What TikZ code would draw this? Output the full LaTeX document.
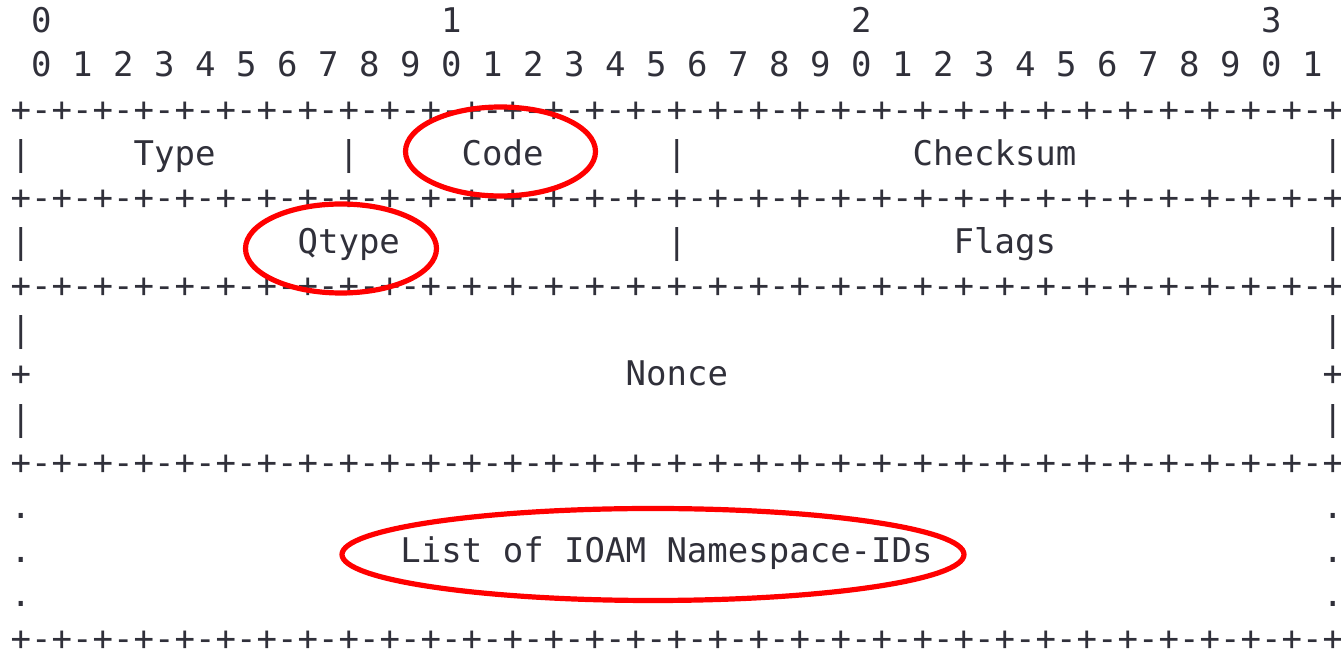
\documentclass[tikz,border=0pt]{standalone}
\usepackage{fontspec}
\newfontfamily\asciifont{DejaVu Sans Mono}
\definecolor{ink}{RGB}{48,48,58}
\definecolor{markred}{RGB}{255,0,0}

\begin{document}
\begin{tikzpicture}
  [
    x=0.5pt, y=-0.5pt,
    ch/.style={anchor=base, inner sep=0pt, text=ink,
      font=\asciifont\fontsize{17}{20}\selectfont},
    ring/.style={draw=markred, line width=2.6pt}
  ]
  \useasboundingbox (0,0) rectangle (1341,651);
  % column centre and row baseline
  \def\cw{20.5}\def\xo{20.8}\def\lh{44.15}\def\yo{32.8}
  % bit numbers
  \foreach \t/\c in {0/1,1/21,2/41,3/61} {
    \node [ch] (ten\t) at (\xo+\c*\cw, \yo) {\t};
  }
  \foreach \b [evaluate=\b as \d using {int(mod(\b,10))}] in {0,...,31} {
    \node [ch] (bit\b) at (\xo+\cw+2*\b*\cw, \yo+\lh) {\d};
  }
  % borders
  \foreach \r in {2,4,6,10,14} {
    \foreach \c in {0,2,...,64}
      \node [ch] (p\r-\c) at (\xo+\c*\cw, \yo+\r*\lh) {+};
    \foreach \c in {1,3,...,63}
      \node [ch] (m\r-\c) at (\xo+\c*\cw, \yo+\r*\lh) {-};
  }
  % sides
  \foreach \r/\c/\s in {3/0/|,3/16/|,3/32/|,3/64/|,5/0/|,5/32/|,5/64/|,
      7/0/|,7/64/|,8/0/+,8/64/+,9/0/|,9/64/|,
      11/0/.,11/64/.,12/0/.,12/64/.,13/0/.,13/64/.} {
    \node [ch] (s\r-\c) at (\xo+\c*\cw, \yo+\r*\lh) {\s};
  }
  % fields
  \node [ch] (type) at (\xo+7.5*\cw, \yo+3*\lh) {Type};
  \node [ch] (code) at (\xo+23.5*\cw, \yo+3*\lh) {Code};
  \node [ch] (checksum) at (\xo+47.5*\cw, \yo+3*\lh) {Checksum};
  \node [ch] (qtype) at (\xo+16*\cw, \yo+5*\lh) {Qtype};
  \node [ch] (flags) at (\xo+48*\cw, \yo+5*\lh) {Flags};
  \node [ch] (nonce) at (\xo+32*\cw, \yo+8*\lh) {Nonce};
  \node [ch] (nsids) at (\xo+31.5*\cw, \yo+12*\lh) {List of IOAM Namespace-IDs};
  % red marks
  \draw [ring] (500.5,151.5) ellipse [x radius=95, y radius=44.5];
  \draw [ring] (341,248.5) ellipse [x radius=95.5, y radius=44.5];
  \draw [ring] (653,554.5) ellipse [x radius=311, y radius=46];
\end{tikzpicture}
\end{document}
